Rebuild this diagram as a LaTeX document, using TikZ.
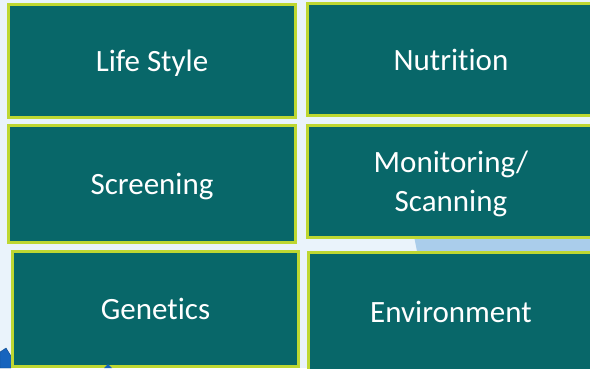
\documentclass[tikz,border=0pt]{standalone}
\usepackage{fontspec}
\setmainfont{Carlito}[Ligatures={NoCommon,NoRare,NoContextual}, Contextuals=NoAlternate]
\usepackage{xcolor}
\usepackage{tikz}
\usetikzlibrary{positioning}
\definecolor{tileteal}{RGB}{8,103,105}
\definecolor{tilelime}{RGB}{190,215,50}
\definecolor{pagetint}{RGB}{234,243,251}
\definecolor{skyblue}{RGB}{170,205,235}
\definecolor{deepblue}{RGB}{22,100,190}

\begin{document}
\begin{tikzpicture}[
    x=1pt, y=-1pt,
    nosep/.style={inner sep=0},
    tile/.style={
        rectangle, nosep,
        fill=tileteal, draw=tilelime, line width=3pt,
        text=white, align=center, text depth=0pt,
        font=\fontsize{31}{39}\selectfont },
    wide tile/.style={tile, minimum width=284pt} ]
\useasboundingbox (0,0) rectangle (590,368);
\path[fill=pagetint] (0,0) rectangle (590,368);
\path[fill=skyblue] (414,236) -- (600,236) -- (600,368) -- (440,368) -- cycle;
\path[fill=deepblue, draw=deepblue!70!black, thin] (0,352) -- (6,348) -- (11,356) -- (11,368) -- (0,368) -- cycle;

\node (lifestyle)   [tile, minimum width=287pt, minimum height=113pt] at (152,61)    {Life Style};
\node (nutrition)   [wide tile, minimum width=287pt, minimum height=112pt] at (451,59.5)  {Nutrition};
\node (screening)   [tile, minimum width=287pt, minimum height=117pt] at (152,184)   {Screening};
\node (monitoring)  [wide tile, minimum width=287pt, minimum height=112pt] at (451,181.5) {Monitoring/\\Scanning};
\node (genetics)    [tile, minimum width=286pt, minimum height=115pt] at (155.5,309) {Genetics};
\node (environment) [wide tile, minimum width=286pt, minimum height=118pt] at (451,311.5) {Environment};

\path[fill=deepblue] (104,368) -- (108,364) -- (112,368) -- cycle;

\end{tikzpicture}
\end{document}
